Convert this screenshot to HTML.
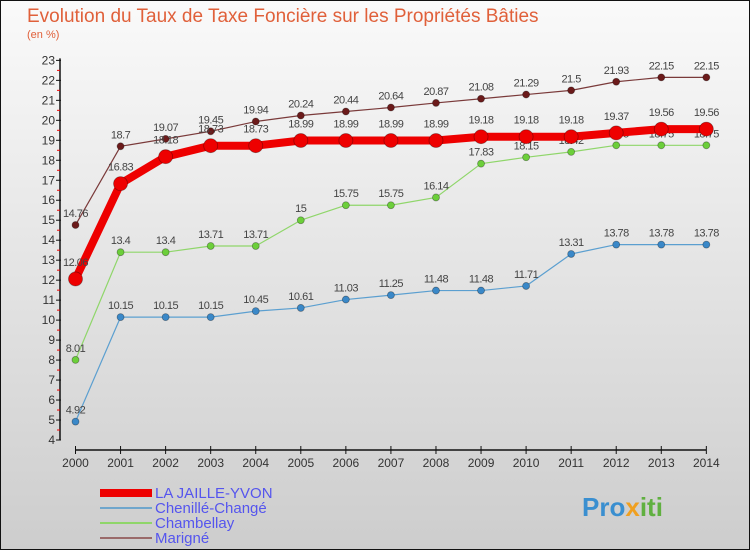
<!DOCTYPE html>
<html><head><meta charset="utf-8"><style>
body{margin:0}
#c{width:750px;height:550px;position:relative;overflow:hidden;font-family:"Liberation Sans",sans-serif}
</style></head><body>
<div id="c">
<svg id="s" width="750" height="550" xmlns="http://www.w3.org/2000/svg">
<defs><linearGradient id="bg" x1="0" y1="0" x2="0" y2="1"><stop offset="0" stop-color="#fafafa"/><stop offset="1" stop-color="#cdcdcd"/></linearGradient></defs>
<rect x="0.5" y="0.5" width="749" height="549" fill="url(#bg)" stroke="#111"/>
<text x="27" y="22" font-size="19" fill="#e0603a">Evolution du Taux de Taxe Foncière sur les Propriétés Bâties</text>
<text x="27" y="38" font-size="11" fill="#e0603a">(en %)</text>
<g id="axes"></g><g id="series"></g>
<g>
<rect x="100" y="489" width="52" height="8" fill="#ee0000"/>
<line x1="100" y1="508" x2="152" y2="508" stroke="#6fa6cc" stroke-width="2"/>
<line x1="100" y1="523" x2="152" y2="523" stroke="#8fd66a" stroke-width="2"/>
<line x1="100" y1="538" x2="152" y2="538" stroke="#9a6a6a" stroke-width="2"/>
<text x="155" y="498" font-size="15" fill="#5555ee">LA JAILLE-YVON</text>
<text x="155" y="513" font-size="15" fill="#5555ee">Chenillé-Changé</text>
<text x="155" y="528" font-size="15" fill="#5555ee">Chambellay</text>
<text x="155" y="543" font-size="15" fill="#5555ee">Marigné</text>
</g>
<text x="582" y="516" font-size="26" font-weight="bold" fill="#3a8fd0">Pro<tspan fill="#f0a020">x</tspan><tspan fill="#60b040">iti</tspan></text>
</svg>
</div>
<script>
const years=[2000,2001,2002,2003,2004,2005,2006,2007,2008,2009,2010,2011,2012,2013,2014];
const yTicks=[4,5,6,7,8,9,10,11,12,13,14,15,16,17,18,19,20,21,22,23];
const marigne=[14.76,18.7,19.07,19.45,19.94,20.24,20.44,20.64,20.87,21.08,21.29,21.5,21.93,22.15,22.15];
const jaille=[12.06,16.83,18.18,18.73,18.73,18.99,18.99,18.99,18.99,19.18,19.18,19.18,19.37,19.56,19.56];
const chenille=[4.92,10.15,10.15,10.15,10.45,10.61,11.03,11.25,11.48,11.48,11.71,13.31,13.78,13.78,13.78];
const chambellay=[8.01,13.4,13.4,13.71,13.71,15,15.75,15.75,16.14,17.83,18.15,18.42,18.75,18.75,18.75];
const NS="http://www.w3.org/2000/svg";
function X(i){return 75.5+i*45.06;}
function Y(v){return 440-(v-4)*19.98;}
function mk(tag,at,parent){const e=document.createElementNS(NS,tag);for(const k in at)e.setAttribute(k,at[k]);parent.appendChild(e);return e;}
const ax=document.getElementById('axes');
let l=mk('line',{x1:60,y1:Y(23)-2,x2:60,y2:Y(4),stroke:'#111','stroke-width':1.5},ax);


yTicks.forEach(v=>{
 mk('line',{x1:56,y1:Y(v),x2:61,y2:Y(v),stroke:'#111'},ax);
 if(v<23)mk('line',{x1:57,y1:Y(v+0.5),x2:60,y2:Y(v+0.5),stroke:'#e00'},ax);
 const t=mk('text',{x:55,y:Y(v)+4,'font-size':12,fill:'#333','text-anchor':'end'},ax);t.textContent=v;
 
 
});
l=mk('line',{x1:X(0),y1:450,x2:X(14),y2:450,stroke:'#111','stroke-width':1.5},ax);


years.forEach((y,i)=>{
 mk('line',{x1:X(i),y1:446,x2:X(i),y2:454,stroke:'#111'},ax);
 const t=mk('text',{x:X(i),y:467,'font-size':12,fill:'#333','text-anchor':'middle'},ax);t.textContent=y;
 
 
});
const sg=document.getElementById('series');
function draw(data,name,color,w,r,mcol,labelDy){
 const g=mk('g',{},sg);
 
 
 const p=mk('polyline',{points:data.map((v,i)=>X(i)+','+Y(v)).join(' '),fill:'none',stroke:color,'stroke-width':w,'stroke-linejoin':'round'},g);
 
 
 data.forEach((v,i)=>{
  const c=mk('circle',{cx:X(i),cy:Y(v),r:r,fill:mcol,stroke:'rgba(0,0,0,0.35)','stroke-width':0.8},g);
  
  
  const t=mk('text',{x:X(i),y:Y(v)-labelDy,'font-size':11,fill:'#444','text-anchor':'middle','letter-spacing':'-0.5'},g);
  t.textContent=v;
  
  
 });
}
draw(marigne,'marigne','#7a3a3a',1.2,3.5,'#6b1a1a',8);
draw(chenille,'chenille-change','#5b9fd0',1.2,3.5,'#3a88c8',8);
draw(chambellay,'chambellay','#8fd66a',1.2,3.5,'#6ccf3a',8);
draw(jaille,'la-jaille-yvon','#ee0000',8,7,'#ee0000',13);
</script>
</body></html>
